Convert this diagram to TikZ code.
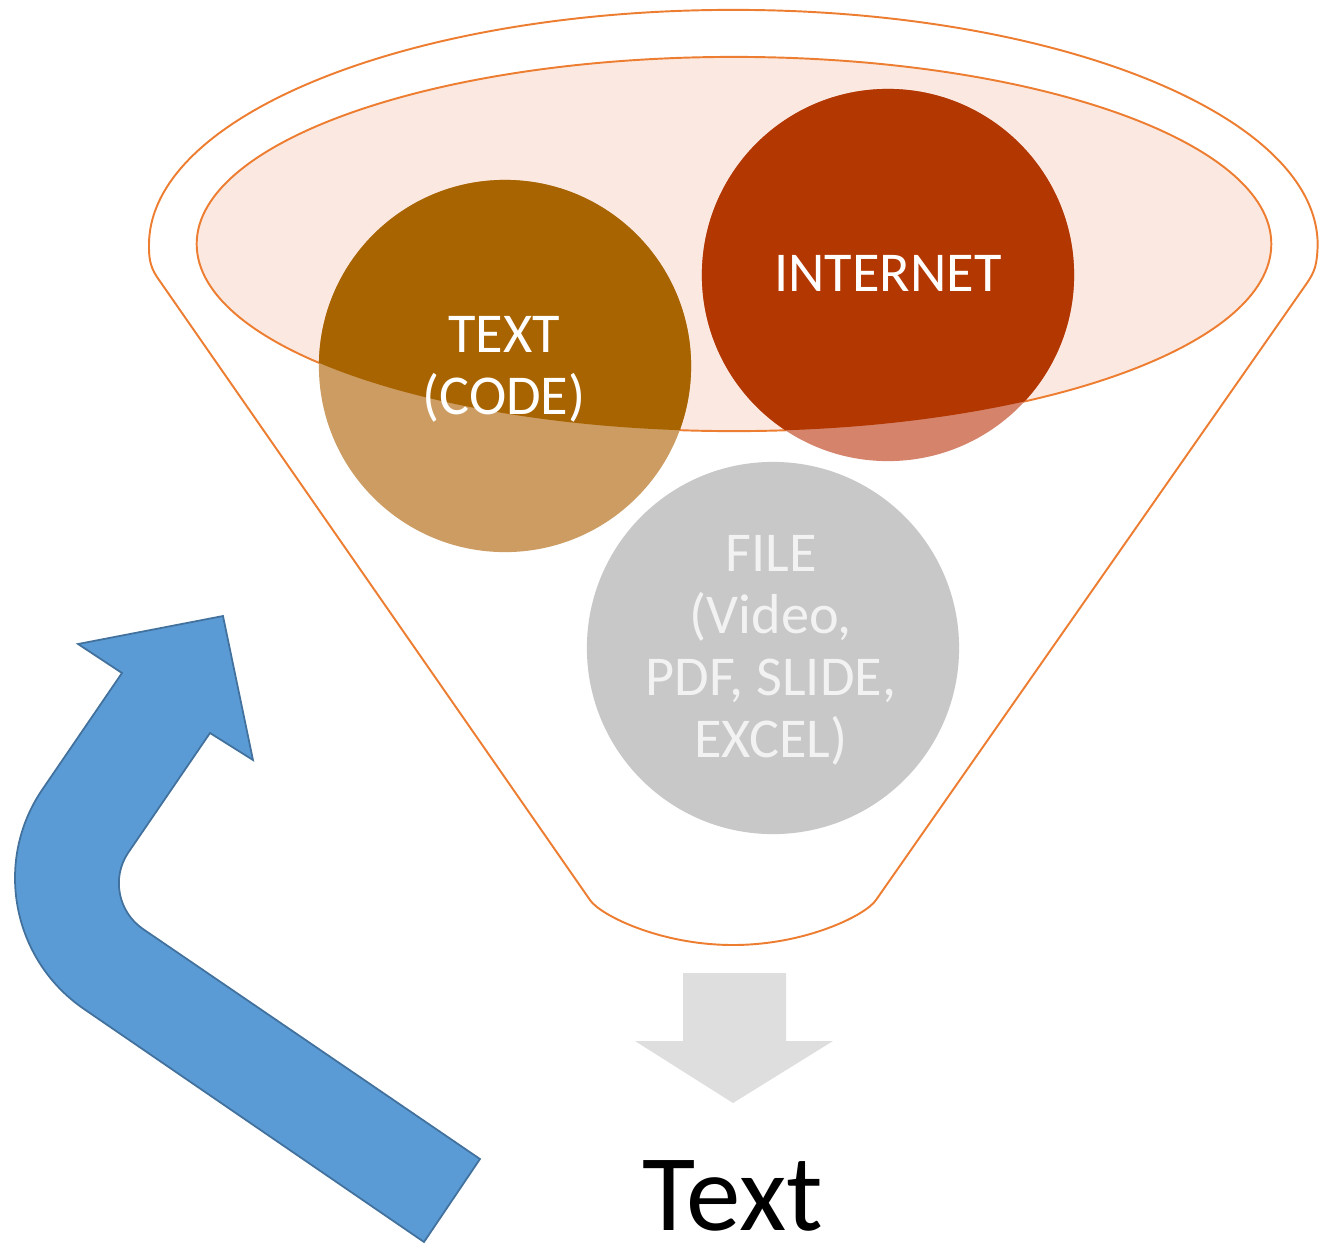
\documentclass[tikz,border=0pt]{standalone}
\usepackage{fontspec}
\setmainfont{Carlito}
\definecolor{funnelline}{RGB}{237,125,49}
\definecolor{mouthfill}{RGB}{251,233,225}
\definecolor{textdark}{RGB}{168,100,0}
\definecolor{textlight}{RGB}{204,156,98}
\definecolor{netdark}{RGB}{179,55,0}
\definecolor{netlight}{RGB}{213,131,106}
\definecolor{filegray}{RGB}{200,200,200}
\definecolor{filetext}{RGB}{242,242,242}
\definecolor{outgray}{RGB}{222,222,222}
\definecolor{bluefill}{RGB}{91,155,213}
\definecolor{blueline}{RGB}{65,113,156}
\tikzset{
  funnel/.style={draw=funnelline, line width=0.55pt},
  ball/.style={circle, minimum size=3.72cm, inner sep=0pt, draw=none},
  lbl/.style={align=center, font=\fontsize{16}{17.6}\selectfont, inner sep=0pt},
}
\begin{document}
\begin{tikzpicture}[x=0.01cm,y=-0.01cm]
\useasboundingbox (0,0) rectangle (1332,1244);
% funnel outline
\draw[funnel] (149,245) arc[start angle=180, end angle=0, x radius=5.84cm, y radius=2.35cm]
  .. controls (1317,265) and (1315,271) .. (1307,283)
  -- (876,900) .. controls (866,915) and (806,945) .. (733,945)
  .. controls (660,945) and (600,915) .. (590,900)
  -- (157,277) .. controls (149,265) and (149,255) .. cycle;
% funnel mouth
\fill[mouthfill] (734,244) ellipse [x radius=5.37cm, y radius=1.87cm];
\draw[funnel] (734,244) ellipse [x radius=5.37cm, y radius=1.87cm];
% balls (part outside the mouth)
\node[ball, fill=textlight] (textc) at (505,366) {};
\node[ball, fill=netlight] (netc) at (888,275) {};
\node[ball, fill=filegray] (filec) at (773,648) {};
% balls (part inside the mouth)
\begin{scope}
  \clip (734,244) ellipse [x radius=5.37cm, y radius=1.87cm];
  \fill[textdark] (textc.center) circle [radius=1.86cm];
  \fill[netdark] (netc.center) circle [radius=1.86cm];
\end{scope}
% labels
\node[lbl, text=white] (textlbl) at (504,369) {TEXT\\(CODE)};
\node[lbl, text=white] (netlbl) at (888,273) {INTERNET};
\node[lbl, text=filetext] (filelbl) at (771,650) {FILE\\(Video,\\PDF, SLIDE,\\EXCEL)};
% output arrow
\fill[outgray] (683,973) -- (786,973) -- (786,1041) -- (833,1041) -- (733,1103)
  -- (635,1041) -- (683,1041) -- cycle;
\node[anchor=base, font=\fontsize{31}{37}\selectfont, inner sep=0pt] (outtext) at (733,1230) {Text};
% blue bent arrow
\filldraw[fill=bluefill, draw=blueline, line width=0.5pt]
  (223,616) -- (253,760) -- (210,733) -- (128,853)
  .. controls (111.4,877.9) and (118.1,911.9) .. (143,929)
  -- (480,1159) -- (424,1242) -- (84,1009)
  .. controls (12.2,959.8) and (-6.6,861.8) .. (42,790)
  -- (122,673) -- (78,644) -- cycle;
\end{tikzpicture}
\end{document}
